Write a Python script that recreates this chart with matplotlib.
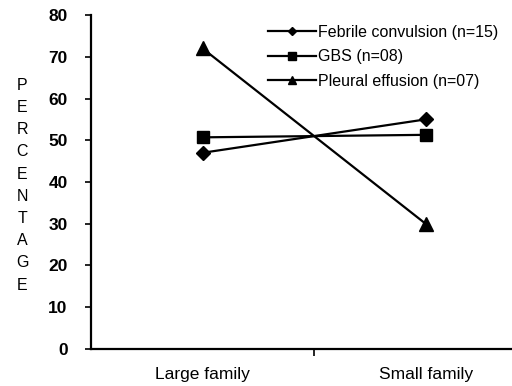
import matplotlib.pyplot as plt

plt.rcParams['font.family'] = ['Liberation Sans', 'DejaVu Sans']

groups = ['Large family', 'Small family']
febrile = [47, 55]
gbs = [50.7, 51.3]
pleural = [72, 30]
labels = ['Febrile convulsion (n=15)', 'GBS (n=08)', 'Pleural effusion (n=07)']

fig = plt.figure(figsize=(5.12, 3.86), dpi=100)
ax = fig.add_axes([0.178, 0.096, 0.871, 0.865])

xs = [0.5, 1.5]
ax.plot(xs, febrile, '-D', color='black', lw=1.6, ms=7, label=labels[0])
ax.plot(xs, gbs, '-s', color='black', lw=1.6, ms=8, label=labels[1])
ax.plot(xs, pleural, '-^', color='black', lw=1.6, ms=10, label=labels[2])

ax.set_xlim(0, 2)
ax.set_ylim(0, 80)
ax.set_yticks(range(0, 81, 10))
ax.set_xticks([1])
ax.set_xticklabels([''])
ax.set_xticks(xs, minor=True)
ax.set_xticklabels(groups, minor=True)
ax.tick_params(axis='x', which='minor', length=0, pad=13, labelsize=12.5)
ax.tick_params(axis='x', which='major', length=5, width=1.2)
ax.tick_params(axis='y', length=4, width=1.2, labelsize=12.5, pad=13)
for lab in ax.get_yticklabels():
    lab.set_fontweight('bold')

for side in ['top', 'right']:
    ax.spines[side].set_visible(False)
for side in ['left', 'bottom']:
    ax.spines[side].set_linewidth(1.6)

fig.text(0.043, 0.52, '\n'.join('PERCENTAGE'), ha='center', va='center',
         fontsize=11.5, linespacing=1.6)

leg = ax.legend(loc='upper left', bbox_to_anchor=(0.375, 1.0), frameon=False,
                handlelength=3.0, handletextpad=0.15, labelspacing=0.6,
                fontsize=11.5, borderaxespad=0.2)
for h, ms in zip(leg.legend_handles, [4, 6, 6]):
    h.set_markersize(ms)

fig.savefig('out.png')
